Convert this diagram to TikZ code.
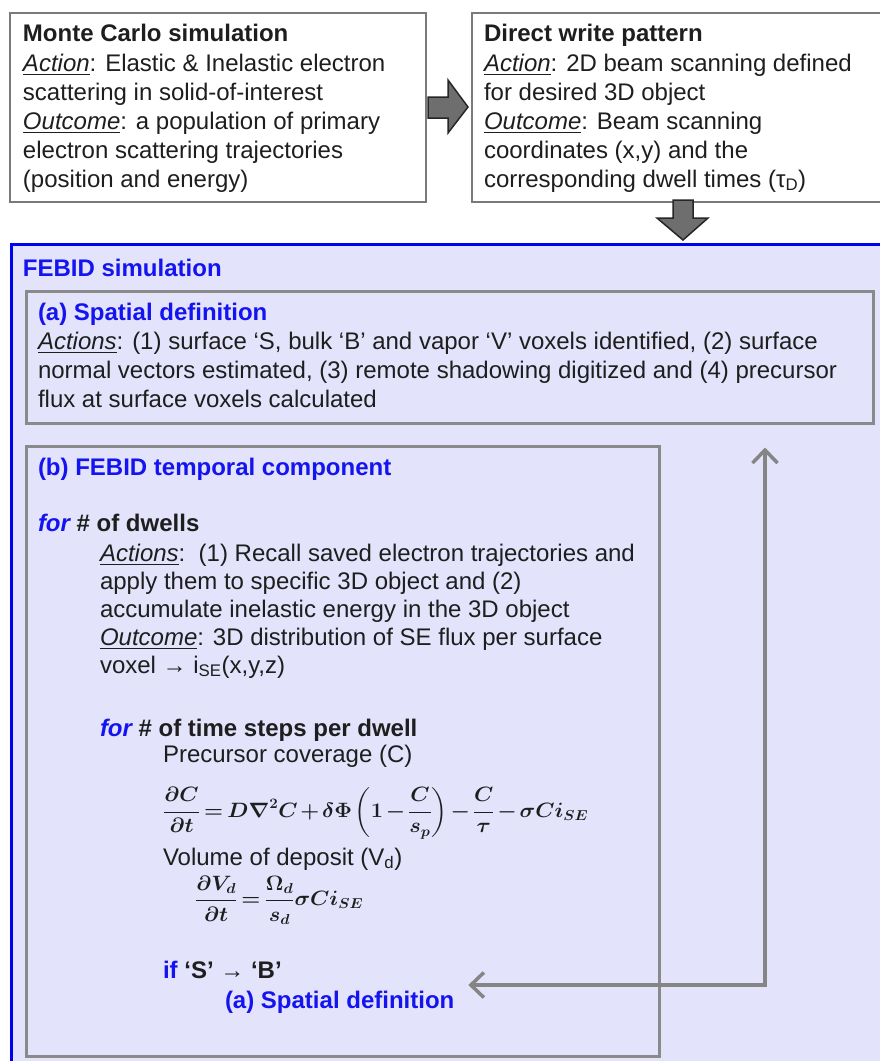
\documentclass[tikz,border=0pt]{standalone}
\usepackage[no-math]{fontspec}
\setmainfont{Liberation Sans}
\usepackage{amsmath}
\usepackage{graphicx}
\usetikzlibrary{arrows.meta,calc}
\definecolor{fblue}{HTML}{1414F0}
\definecolor{ftext}{HTML}{1E1E1E}
\definecolor{lav}{RGB}{227,227,251}
\definecolor{boxgray}{HTML}{7A7A7A}
\definecolor{ingray}{HTML}{8A8A8A}
\definecolor{arrgray}{HTML}{6E6E6E}
\definecolor{fbgray}{HTML}{858585}
\newcommand{\ulit}[1]{\underline{\textit{#1}}}
\newcommand{\tightmath}{\thickmuskip=3mu\medmuskip=2mu\thinmuskip=2mu}
\newcommand{\eqone}{\resizebox{425pt}{\height}{\tightmath\boldmath$\displaystyle \frac{\partial C}{\partial t} = D\nabla^2 C + \delta\Phi\left(1-\frac{C}{s_p}\right)-\frac{C}{\tau}-\sigma C i_{SE}$}}
\newcommand{\eqtwo}{\resizebox{168pt}{\height}{\tightmath\boldmath$\displaystyle \frac{\partial V_d}{\partial t} = \frac{\Omega_d}{s_d}\sigma C i_{SE}$}}
\begin{document}
\begin{tikzpicture}[x=1pt,y=-1pt,
  txt/.style={anchor=base west, inner sep=0pt, outer sep=0pt, text=ftext, font=\fontsize{24}{29}\selectfont},
  btxt/.style={txt, text=fblue, font=\fontsize{24}{29}\selectfont\bfseries},
  topbox/.style={draw=boxgray, line width=2pt, fill=white, rectangle, anchor=north west, inner sep=0pt},
  inbox/.style={draw=ingray, line width=2.5pt, rectangle, anchor=north west, inner sep=0pt},
  blockarrow/.style={fill=arrgray, draw=black!85, line width=1.5pt, line join=miter},
  fbarrow/.style={draw=fbgray, line width=3.5pt, {Straight Barb[length=13pt,width=25pt]}-{Straight Barb[length=13pt,width=25pt]}},
  eqnode/.style={anchor=west, inner sep=0pt, text=ftext, font=\fontsize{22.5}{27}\selectfont}
]
\useasboundingbox (0,0) rectangle (880,1061);
\clip (0,0) rectangle (880,1061);
\fill[white] (0,0) rectangle (880,1061);

% outer FEBID region
\node[draw=blue!95!black, line width=3pt, fill=lav, rectangle, anchor=north west, inner sep=0pt,
      minimum width=900, minimum height=900] (febid) at (10,243) {};

% top boxes
\node[topbox, minimum width=416, minimum height=189] (mc) at (9,12) {};
\node[topbox, minimum width=420, minimum height=189] (dw) at (471,12) {};

% inner boxes
\node[inbox, minimum width=847, minimum height=132] (spa) at (25,290) {};
\node[inbox, minimum width=633, minimum height=610] (tmp) at (25,445) {};

% block arrows
\draw[blockarrow] (428,97) -- (448,97) -- (448,80) -- (468,107) -- (448,133) -- (448,118) -- (428,118) -- cycle;
\draw[blockarrow] (673,200) -- (693,200) -- (693,218) -- (708,218) -- (683,240) -- (657,218) -- (673,218) -- cycle;

% Monte Carlo text
\node[txt, font=\fontsize{24}{29}\selectfont\bfseries] (mc1) at (23,41) {Monte Carlo simulation};
\node[txt] (mc2) at (23,71) {\ulit{Action}: Elastic \& Inelastic electron};
\node[txt] (mc3) at (23,100) {scattering in solid-of-interest};
\node[txt] (mc4) at (23,129) {\ulit{Outcome}: a population of primary};
\node[txt] (mc5) at (23,158) {electron scattering trajectories};
\node[txt] (mc6) at (23,187) {(position and energy)};

% Direct write text
\node[txt, font=\fontsize{24}{29}\selectfont\bfseries] (dw1) at (484,41) {Direct write pattern};
\node[txt] (dw2) at (484,71) {\ulit{Action}: 2D beam scanning defined};
\node[txt] (dw3) at (484,100) {for desired 3D object};
\node[txt] (dw4) at (484,129) {\ulit{Outcome}: Beam scanning};
\node[txt] (dw5) at (484,158) {coordinates (x,y) and the};
\node[txt] (dw6) at (484,187) {corresponding dwell times (τ\textsubscript{D})};

% FEBID title
\node[btxt] (ft) at (23,276) {FEBID simulation};

% (a) Spatial definition
\node[btxt] (sa0) at (38,320) {(a) Spatial definition};
\node[txt] (sa1) at (38,349) {\ulit{Actions}: (1) surface `S, bulk `B' and vapor `V' voxels identified, (2) surface};
\node[txt] (sa2) at (38,378) {normal vectors estimated, (3) remote shadowing digitized and (4) precursor};
\node[txt] (sa3) at (38,407) {flux at surface voxels calculated};

% (b) temporal component
\node[btxt] (tb0) at (38,475) {(b) FEBID temporal component};
\node[txt] (tb1) at (38,531) {{\color{fblue}\bfseries\itshape for} \textbf{\# of dwells}};
\node[txt] (tb2) at (100,561) {\ulit{Actions}:\ \ (1) Recall saved electron trajectories and};
\node[txt] (tb3) at (100,589) {apply them to specific 3D object and (2)};
\node[txt] (tb4) at (100,617) {accumulate inelastic energy in the 3D object};
\node[txt] (tb5) at (100,645) {\ulit{Outcome}: 3D distribution of SE flux per surface};
\node[txt] (tb6) at (100,673) {voxel → i\textsubscript{SE}(x,y,z)};
\node[txt] (tb7) at (100,736) {{\color{fblue}\bfseries\itshape for} \textbf{\# of time steps per dwell}};
\node[txt] (tb8) at (163,762) {Precursor coverage (C)};
\node[eqnode] (eq1) at (163,813) {\eqone};
\node[txt] (tb9) at (163,865) {Volume of deposit (V\textsubscript{d})};
\node[eqnode] (eq2) at (195,900) {\eqtwo};
\node[txt] (tb10) at (163,978) {{\color{fblue}\bfseries if} \textbf{`S' → `B'}};
\node[btxt] (tb11) at (225,1008) {(a) Spatial definition};

% feedback connector
\coordinate (fbC) at (765,985);
\path (tb11.east) ++(14,0) coordinate (fbX);
\coordinate (fbL) at (fbX |- fbC);
\path (spa.south -| fbC) ++(0,23) coordinate (fbT);
\draw[fbarrow] (fbL) -- (fbC) -- (fbT);
\end{tikzpicture}
\end{document}
